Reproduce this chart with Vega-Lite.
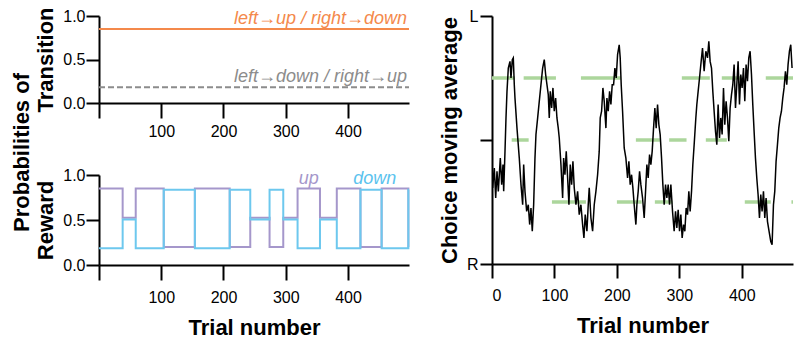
{
  "$schema": "https://vega.github.io/schema/vega-lite/v6.json",
  "padding": {"left": 10, "top": 6, "right": 0, "bottom": 0},
  "background": "white",
  "config": {
    "font": "Liberation Sans",
    "view": {"stroke": null},
    "axis": {
      "domainColor": "black", "domainWidth": 2, "tickColor": "black", "tickWidth": 2,
      "labelColor": "black", "labelFontSize": 16, "labelFont": "Liberation Sans",
      "titleFontSize": 22, "titleFontWeight": "bold", "titleColor": "black", "titleFont": "Liberation Sans",
      "grid": false
    }
  },
  "datasets": {
    "trans": [
      {"kind": "left→up / right→down", "t0": 0, "t1": 498, "p": 0.85},
      {"kind": "left→down / right→up", "t0": 0, "t1": 498, "p": 0.18}
    ],
    "up": [
      {"t": 0, "p": 0.85}, {"t": 38, "p": 0.525}, {"t": 59, "p": 0.85}, {"t": 104, "p": 0.2},
      {"t": 154, "p": 0.85}, {"t": 210, "p": 0.2}, {"t": 243, "p": 0.525}, {"t": 274, "p": 0.2},
      {"t": 296, "p": 0.525}, {"t": 319, "p": 0.85}, {"t": 355, "p": 0.525}, {"t": 382, "p": 0.85},
      {"t": 420, "p": 0.2}, {"t": 454, "p": 0.85}, {"t": 497, "p": 0.2}, {"t": 498, "p": 0.2}
    ],
    "down": [
      {"t": 0, "p": 0.185}, {"t": 38, "p": 0.505}, {"t": 59, "p": 0.185}, {"t": 104, "p": 0.835},
      {"t": 154, "p": 0.185}, {"t": 210, "p": 0.835}, {"t": 243, "p": 0.505}, {"t": 274, "p": 0.835},
      {"t": 296, "p": 0.505}, {"t": 319, "p": 0.185}, {"t": 355, "p": 0.505}, {"t": 382, "p": 0.185},
      {"t": 420, "p": 0.835}, {"t": 454, "p": 0.185}, {"t": 497, "p": 0.835}, {"t": 498, "p": 0.835}
    ],
    "rewlabels": [
      {"label": "up", "t": 337, "p": 0.85},
      {"label": "down", "t": 443, "p": 0.85}
    ],
    "green": [
      {"t0": 0, "t1": 36.8, "lvl": 0.75}, {"t0": 50.7, "t1": 102.4, "lvl": 0.75},
      {"t0": 142.4, "t1": 206.4, "lvl": 0.75}, {"t0": 304, "t1": 348.8, "lvl": 0.75},
      {"t0": 368, "t1": 400, "lvl": 0.75}, {"t0": 438.4, "t1": 482, "lvl": 0.75},
      {"t0": 31.5, "t1": 58.7, "lvl": 0.5}, {"t0": 230.4, "t1": 268.8, "lvl": 0.5},
      {"t0": 283.7, "t1": 311.5, "lvl": 0.5}, {"t0": 342.4, "t1": 376, "lvl": 0.5},
      {"t0": 96, "t1": 150.4, "lvl": 0.25}, {"t0": 200, "t1": 239.7, "lvl": 0.25},
      {"t0": 260.8, "t1": 289.1, "lvl": 0.25}, {"t0": 404.8, "t1": 446.4, "lvl": 0.25},
      {"t0": 479.5, "t1": 482, "lvl": 0.25}
    ],
    "choice": [
      {"t": 0, "v": 0.427}, {"t": 1.1, "v": 0.307}, {"t": 3.7, "v": 0.387}, {"t": 5.9, "v": 0.266},
      {"t": 8.0, "v": 0.374}, {"t": 10.1, "v": 0.293}, {"t": 13.3, "v": 0.427}, {"t": 15.5, "v": 0.32},
      {"t": 17.6, "v": 0.401}, {"t": 18.7, "v": 0.293}, {"t": 20.8, "v": 0.454}, {"t": 22.4, "v": 0.589},
      {"t": 24.0, "v": 0.696}, {"t": 26.1, "v": 0.79}, {"t": 28.8, "v": 0.817}, {"t": 30.4, "v": 0.75},
      {"t": 32.5, "v": 0.824}, {"t": 34.1, "v": 0.831}, {"t": 35.7, "v": 0.723}, {"t": 36.8, "v": 0.669},
      {"t": 40.0, "v": 0.548}, {"t": 43.7, "v": 0.427}, {"t": 46.4, "v": 0.32}, {"t": 49.1, "v": 0.239},
      {"t": 50.7, "v": 0.401}, {"t": 52.8, "v": 0.293}, {"t": 55.5, "v": 0.212}, {"t": 58.1, "v": 0.239},
      {"t": 60.3, "v": 0.159}, {"t": 62.4, "v": 0.226}, {"t": 64.5, "v": 0.132}, {"t": 66.7, "v": 0.239},
      {"t": 68.8, "v": 0.427}, {"t": 70.4, "v": 0.522}, {"t": 73.1, "v": 0.589}, {"t": 75.7, "v": 0.656},
      {"t": 78.4, "v": 0.723}, {"t": 81.1, "v": 0.79}, {"t": 83.7, "v": 0.824}, {"t": 85.9, "v": 0.764},
      {"t": 88.0, "v": 0.723}, {"t": 90.1, "v": 0.683}, {"t": 91.7, "v": 0.589}, {"t": 93.3, "v": 0.696},
      {"t": 95.5, "v": 0.629}, {"t": 97.6, "v": 0.71}, {"t": 99.7, "v": 0.616}, {"t": 101.9, "v": 0.669},
      {"t": 104.0, "v": 0.589}, {"t": 106.1, "v": 0.548}, {"t": 107.7, "v": 0.508}, {"t": 110.4, "v": 0.401},
      {"t": 113.1, "v": 0.266}, {"t": 114.7, "v": 0.427}, {"t": 116.8, "v": 0.36}, {"t": 118.9, "v": 0.454},
      {"t": 121.1, "v": 0.347}, {"t": 123.2, "v": 0.239}, {"t": 125.3, "v": 0.401}, {"t": 127.5, "v": 0.32},
      {"t": 129.6, "v": 0.414}, {"t": 131.7, "v": 0.307}, {"t": 134.4, "v": 0.239}, {"t": 137.1, "v": 0.293},
      {"t": 139.7, "v": 0.199}, {"t": 142.4, "v": 0.239}, {"t": 145.1, "v": 0.159}, {"t": 147.2, "v": 0.105},
      {"t": 149.3, "v": 0.199}, {"t": 152.0, "v": 0.132}, {"t": 154.1, "v": 0.239}, {"t": 155.7, "v": 0.307},
      {"t": 158.4, "v": 0.186}, {"t": 161.1, "v": 0.132}, {"t": 163.7, "v": 0.239}, {"t": 166.4, "v": 0.293},
      {"t": 169.1, "v": 0.36}, {"t": 171.7, "v": 0.454}, {"t": 173.3, "v": 0.589}, {"t": 175.5, "v": 0.616},
      {"t": 177.6, "v": 0.71}, {"t": 179.7, "v": 0.656}, {"t": 182.4, "v": 0.548}, {"t": 184.0, "v": 0.669},
      {"t": 186.1, "v": 0.616}, {"t": 188.3, "v": 0.696}, {"t": 190.4, "v": 0.643}, {"t": 192.5, "v": 0.723},
      {"t": 194.7, "v": 0.723}, {"t": 196.8, "v": 0.79}, {"t": 198.9, "v": 0.75}, {"t": 201.1, "v": 0.844},
      {"t": 203.7, "v": 0.884}, {"t": 205.3, "v": 0.831}, {"t": 206.9, "v": 0.723}, {"t": 209.1, "v": 0.616},
      {"t": 211.7, "v": 0.468}, {"t": 214.4, "v": 0.427}, {"t": 217.1, "v": 0.347}, {"t": 219.2, "v": 0.414},
      {"t": 221.3, "v": 0.32}, {"t": 223.5, "v": 0.36}, {"t": 225.6, "v": 0.307}, {"t": 227.7, "v": 0.239},
      {"t": 230.4, "v": 0.159}, {"t": 232.0, "v": 0.239}, {"t": 234.1, "v": 0.293}, {"t": 236.3, "v": 0.374},
      {"t": 238.4, "v": 0.32}, {"t": 241.1, "v": 0.266}, {"t": 243.7, "v": 0.186}, {"t": 245.9, "v": 0.293},
      {"t": 248.0, "v": 0.401}, {"t": 250.1, "v": 0.347}, {"t": 252.3, "v": 0.441}, {"t": 254.4, "v": 0.401},
      {"t": 256.5, "v": 0.454}, {"t": 258.7, "v": 0.548}, {"t": 260.8, "v": 0.629}, {"t": 262.9, "v": 0.548},
      {"t": 265.1, "v": 0.643}, {"t": 267.2, "v": 0.562}, {"t": 269.3, "v": 0.522}, {"t": 271.5, "v": 0.427},
      {"t": 273.6, "v": 0.32}, {"t": 275.7, "v": 0.239}, {"t": 277.9, "v": 0.32}, {"t": 280.0, "v": 0.266},
      {"t": 282.1, "v": 0.32}, {"t": 284.3, "v": 0.239}, {"t": 286.4, "v": 0.32}, {"t": 289.1, "v": 0.212},
      {"t": 291.7, "v": 0.132}, {"t": 293.9, "v": 0.212}, {"t": 296.0, "v": 0.145}, {"t": 298.1, "v": 0.219},
      {"t": 300.3, "v": 0.132}, {"t": 302.4, "v": 0.199}, {"t": 304.5, "v": 0.105}, {"t": 306.7, "v": 0.159},
      {"t": 308.8, "v": 0.132}, {"t": 310.9, "v": 0.226}, {"t": 313.1, "v": 0.199}, {"t": 315.2, "v": 0.293},
      {"t": 317.3, "v": 0.212}, {"t": 319.5, "v": 0.293}, {"t": 321.6, "v": 0.401}, {"t": 323.7, "v": 0.481},
      {"t": 326.4, "v": 0.589}, {"t": 328.0, "v": 0.643}, {"t": 330.1, "v": 0.696}, {"t": 332.3, "v": 0.75},
      {"t": 334.4, "v": 0.804}, {"t": 337.1, "v": 0.871}, {"t": 339.7, "v": 0.777}, {"t": 342.4, "v": 0.858},
      {"t": 345.1, "v": 0.831}, {"t": 347.2, "v": 0.898}, {"t": 349.3, "v": 0.817}, {"t": 351.5, "v": 0.79},
      {"t": 353.6, "v": 0.696}, {"t": 355.7, "v": 0.616}, {"t": 357.9, "v": 0.535}, {"t": 360.0, "v": 0.481},
      {"t": 362.1, "v": 0.643}, {"t": 364.3, "v": 0.508}, {"t": 366.4, "v": 0.589}, {"t": 368.5, "v": 0.522},
      {"t": 370.7, "v": 0.71}, {"t": 372.8, "v": 0.562}, {"t": 374.9, "v": 0.656}, {"t": 377.1, "v": 0.589},
      {"t": 379.2, "v": 0.495}, {"t": 381.3, "v": 0.629}, {"t": 383.5, "v": 0.683}, {"t": 385.6, "v": 0.723},
      {"t": 387.7, "v": 0.804}, {"t": 389.9, "v": 0.629}, {"t": 392.0, "v": 0.723}, {"t": 394.1, "v": 0.817},
      {"t": 396.3, "v": 0.643}, {"t": 398.4, "v": 0.764}, {"t": 400.5, "v": 0.71}, {"t": 402.7, "v": 0.79},
      {"t": 404.8, "v": 0.656}, {"t": 406.9, "v": 0.804}, {"t": 409.1, "v": 0.737}, {"t": 411.2, "v": 0.831},
      {"t": 413.3, "v": 0.858}, {"t": 415.5, "v": 0.764}, {"t": 417.6, "v": 0.643}, {"t": 419.7, "v": 0.535},
      {"t": 421.9, "v": 0.427}, {"t": 424.0, "v": 0.347}, {"t": 426.1, "v": 0.28}, {"t": 428.3, "v": 0.186},
      {"t": 430.4, "v": 0.28}, {"t": 432.5, "v": 0.212}, {"t": 434.7, "v": 0.293}, {"t": 436.8, "v": 0.186},
      {"t": 438.9, "v": 0.266}, {"t": 441.1, "v": 0.172}, {"t": 443.7, "v": 0.132}, {"t": 446.4, "v": 0.091},
      {"t": 448.5, "v": 0.078}, {"t": 450.7, "v": 0.239}, {"t": 452.8, "v": 0.293}, {"t": 454.9, "v": 0.414},
      {"t": 457.1, "v": 0.481}, {"t": 459.2, "v": 0.548}, {"t": 461.3, "v": 0.589}, {"t": 463.5, "v": 0.616},
      {"t": 465.6, "v": 0.669}, {"t": 467.7, "v": 0.71}, {"t": 469.9, "v": 0.777}, {"t": 472.0, "v": 0.723},
      {"t": 474.1, "v": 0.804}, {"t": 476.3, "v": 0.858}, {"t": 478.4, "v": 0.884}, {"t": 480.5, "v": 0.79}
    ]
  },
  "spacing": 25,
  "hconcat": [
    {
      "title": {"text": "Probabilities of", "orient": "left", "anchor": "middle", "fontSize": 22, "fontWeight": "bold", "font": "Liberation Sans", "color": "black", "offset": 1, "dx": 20},
      "spacing": 28,
      "vconcat": [
        {
          "width": 310, "height": 87,
          "data": {"name": "trans"},
          "layer": [
            {
              "mark": {"type": "rule", "strokeWidth": 2},
              "encoding": {
                "x": {"field": "t0", "type": "quantitative", "scale": {"domain": [0, 498], "nice": false},
                      "axis": {"values": [0, 100, 200, 300, 400], "labelExpr": "datum.value == 0 ? '' : datum.label", "tickSize": 15, "labelPadding": 5, "title": null}},
                "x2": {"field": "t1"},
                "y": {"field": "p", "type": "quantitative", "scale": {"domain": [0, 1], "nice": false},
                      "axis": {"values": [0, 0.5, 1], "format": ".1f", "tickSize": 13, "labelPadding": 1, "title": "Transition", "titlePadding": 5}},
                "color": {"field": "kind", "type": "nominal", "legend": null,
                          "scale": {"domain": ["left→up / right→down", "left→down / right→up"], "range": ["#f4894b", "#8c8c8c"]}},
                "strokeDash": {"field": "kind", "type": "nominal", "legend": null,
                          "scale": {"domain": ["left→up / right→down", "left→down / right→up"], "range": [[1, 0], [6, 3]]}}
              }
            },
            {
              "mark": {"type": "text", "align": "right", "baseline": "alphabetic", "dy": -5, "dx": -2, "fontSize": 18, "fontStyle": "italic"},
              "encoding": {
                "x": {"field": "t1", "type": "quantitative"},
                "y": {"field": "p", "type": "quantitative"},
                "text": {"field": "kind"},
                "color": {"field": "kind", "type": "nominal", "legend": null}
              }
            }
          ]
        },
        {
          "width": 310, "height": 90,
          "layer": [
            {
              "data": {"name": "up"},
              "mark": {"type": "line", "interpolate": "step-after", "strokeWidth": 2, "color": "#a597cb"},
              "encoding": {
                "x": {"field": "t", "type": "quantitative", "scale": {"domain": [0, 498], "nice": false},
                      "axis": {"values": [0, 100, 200, 300, 400], "labelExpr": "datum.value == 0 ? '' : datum.label", "tickSize": 15, "labelPadding": 9, "title": "Trial number", "titlePadding": 12}},
                "y": {"field": "p", "type": "quantitative", "scale": {"domain": [0, 1], "nice": false},
                      "axis": {"values": [0, 0.5, 1], "format": ".1f", "tickSize": 13, "labelPadding": 1, "title": "Reward", "titlePadding": 5}}
              }
            },
            {
              "data": {"name": "down"},
              "mark": {"type": "line", "interpolate": "step-after", "strokeWidth": 2, "color": "#6dc8ee"},
              "encoding": {
                "x": {"field": "t", "type": "quantitative"},
                "y": {"field": "p", "type": "quantitative"}
              }
            },
            {
              "data": {"name": "rewlabels"},
              "transform": [{"filter": "datum.label == 'up'"}],
              "mark": {"type": "text", "align": "center", "baseline": "alphabetic", "dy": -5, "fontSize": 18, "fontStyle": "italic", "color": "#a597cb"},
              "encoding": {
                "x": {"field": "t", "type": "quantitative"},
                "y": {"field": "p", "type": "quantitative"},
                "text": {"field": "label"}
              }
            },
            {
              "data": {"name": "rewlabels"},
              "transform": [{"filter": "datum.label == 'down'"}],
              "mark": {"type": "text", "align": "center", "baseline": "alphabetic", "dy": -5, "fontSize": 18, "fontStyle": "italic", "color": "#5bc3ee"},
              "encoding": {
                "x": {"field": "t", "type": "quantitative"},
                "y": {"field": "p", "type": "quantitative"},
                "text": {"field": "label"}
              }
            }
          ]
        }
      ]
    },
    {
      "width": 301, "height": 248,
      "layer": [
        {
          "data": {"name": "green"},
          "mark": {"type": "rule", "strokeWidth": 3.5, "color": "#acd69c"},
          "encoding": {
            "x": {"field": "t0", "type": "quantitative", "scale": {"domain": [0, 482], "nice": false},
                  "axis": {"values": [0, 100, 200, 300, 400], "tickSize": 14, "labelPadding": 9, "title": "Trial number", "titlePadding": 12}},
            "x2": {"field": "t1"},
            "y": {"field": "lvl", "type": "quantitative", "scale": {"domain": [0, 1], "nice": false},
                  "axis": {"values": [0, 0.5, 1], "labelExpr": "datum.value == 1 ? 'L' : (datum.value == 0 ? 'R' : '')", "tickSize": 12, "labelPadding": 2, "title": "Choice moving average", "titlePadding": 5}}
          }
        },
        {
          "data": {"name": "choice"},
          "mark": {"type": "line", "strokeWidth": 1.5, "color": "black", "clip": true},
          "encoding": {
            "x": {"field": "t", "type": "quantitative"},
            "y": {"field": "v", "type": "quantitative"}
          }
        }
      ]
    }
  ]
}
